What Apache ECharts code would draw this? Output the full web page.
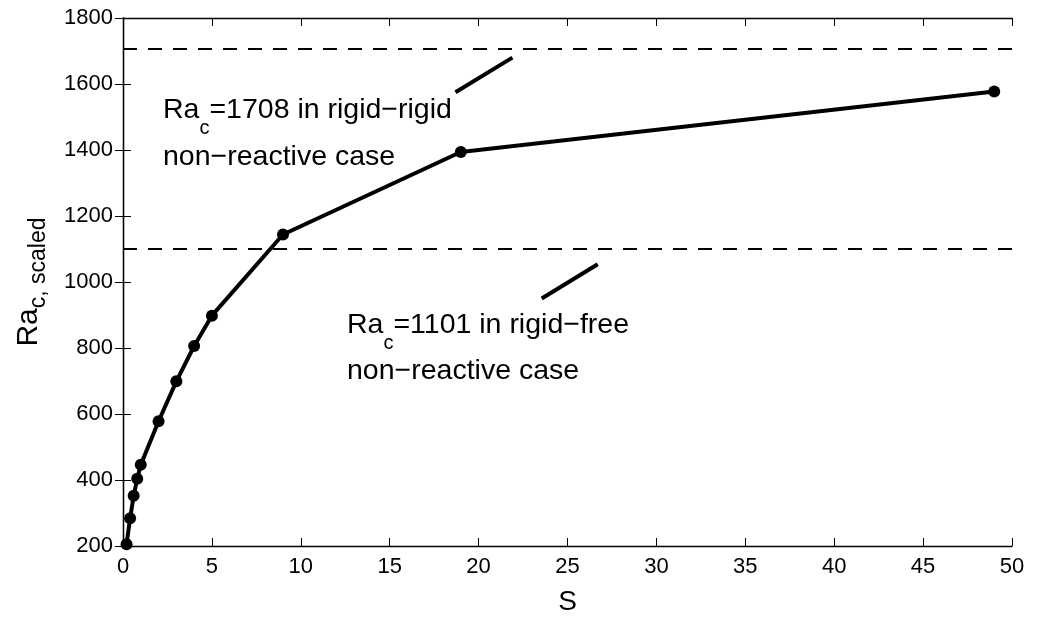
<!DOCTYPE html>
<html><head><meta charset="utf-8">
<script src="https://cdn.jsdelivr.net/npm/echarts@6/dist/echarts.min.js"></script>
<style>html,body{margin:0;padding:0;background:#fff}#c{width:1037px;height:621px}</style>
</head><body><div id="c"></div>
<script>
const S = [0.2, 0.4, 0.6, 0.8, 1, 2, 3, 4, 5, 9, 19, 49];
const Ra = [205, 284, 352, 404, 446, 578, 699, 806, 898, 1144, 1394, 1577];
const refValues = [1708, 1101];
const pointer1 = [[18.7, 1575], [21.9, 1680]];
const pointer2 = [[23.55, 950], [26.7, 1054]];
const xTicks = [0, 5, 10, 15, 20, 25, 30, 35, 40, 45, 50];
const yTicks = [200, 400, 600, 800, 1000, 1200, 1400, 1600, 1800];

const FONT = 'Liberation Sans';
const chart = echarts.init(document.getElementById('c'));
const axisCommon = {
  axisLine: {show: true, lineStyle: {color: '#000', width: 1.3}},
  axisTick: {show: true, inside: true, length: 8, lineStyle: {color: '#000', width: 1}},
  splitLine: {show: false}
};
const richMain = {
  a: {fontFamily: FONT, fontSize: 28.5, color: '#000', lineHeight: 34},
  b: {fontFamily: FONT, fontSize: 20, color: '#000', lineHeight: 20, padding: [35, 0, 0, 0]}
};
chart.setOption({
  animation: false,
  backgroundColor: '#fff',
  grid: {left: 123, right: 25, top: 18, bottom: 65, containLabel: false},
  xAxis: [
    Object.assign({type: 'value', min: xTicks[0], max: xTicks[xTicks.length - 1], interval: 5, position: 'bottom',
      name: 'S', nameLocation: 'middle', nameGap: 42,
      nameTextStyle: {fontFamily: FONT, fontSize: 28, color: '#000'},
      axisLabel: {fontFamily: FONT, fontSize: 22, color: '#000', margin: 10, formatter: v => String(v)}}, axisCommon),
    Object.assign({type: 'value', min: xTicks[0], max: xTicks[xTicks.length - 1], interval: 5, position: 'top',
      axisLabel: {show: false}}, axisCommon)
  ],
  yAxis: [
    Object.assign({type: 'value', min: yTicks[0], max: yTicks[yTicks.length - 1], interval: 200, position: 'left',
      name: '{a|Ra}{b|c, scaled}', nameLocation: 'middle', nameGap: 73, nameRotate: 90,
      nameTextStyle: {fontFamily: FONT, color: '#000',
        rich: {a: {fontFamily: FONT, fontSize: 30, color: '#000'},
               b: {fontFamily: FONT, fontSize: 23, color: '#000', padding: [20, 0, 0, 0]}}},
      axisLabel: {fontFamily: FONT, fontSize: 22, color: '#000', margin: 10, formatter: v => String(v)}}, axisCommon),
    Object.assign({type: 'value', min: yTicks[0], max: yTicks[yTicks.length - 1], interval: 200, position: 'right',
      axisLabel: {show: false}}, axisCommon)
  ],
  series: [
    {
      type: 'line',
      data: S.map((s, i) => [s, Ra[i]]),
      symbol: 'circle', symbolSize: 12,
      lineStyle: {color: '#000', width: 4},
      itemStyle: {color: '#000'},
      z: 5,
      markLine: {
        silent: true, symbol: 'none',
        label: {show: false},
        lineStyle: {color: '#000', width: 2, type: [14, 11]},
        data: refValues.map(v => ({yAxis: v}))
      }
    },
    {type: 'line', data: pointer1, symbol: 'none', lineStyle: {color: '#000', width: 4}},
    {type: 'line', data: pointer2, symbol: 'none', lineStyle: {color: '#000', width: 4}}
  ],
  graphic: [
    {type: 'text', left: 163, top: 83, style: {
      text: '{a|Ra}{b|c}{a|=1708 in rigid\u2212rigid}', rich: richMain}},
    {type: 'text', left: 163, top: 143, style: {
      text: 'non\u2212reactive case', font: '28.5px "Liberation Sans"', fill: '#000', lineHeight: 28}},
    {type: 'text', left: 347, top: 298, style: {
      text: '{a|Ra}{b|c}{a|=1101 in rigid\u2212free}', rich: richMain}},
    {type: 'text', left: 347, top: 357, style: {
      text: 'non\u2212reactive case', font: '28.5px "Liberation Sans"', fill: '#000', lineHeight: 28}}
  ]
});
</script></body></html>
